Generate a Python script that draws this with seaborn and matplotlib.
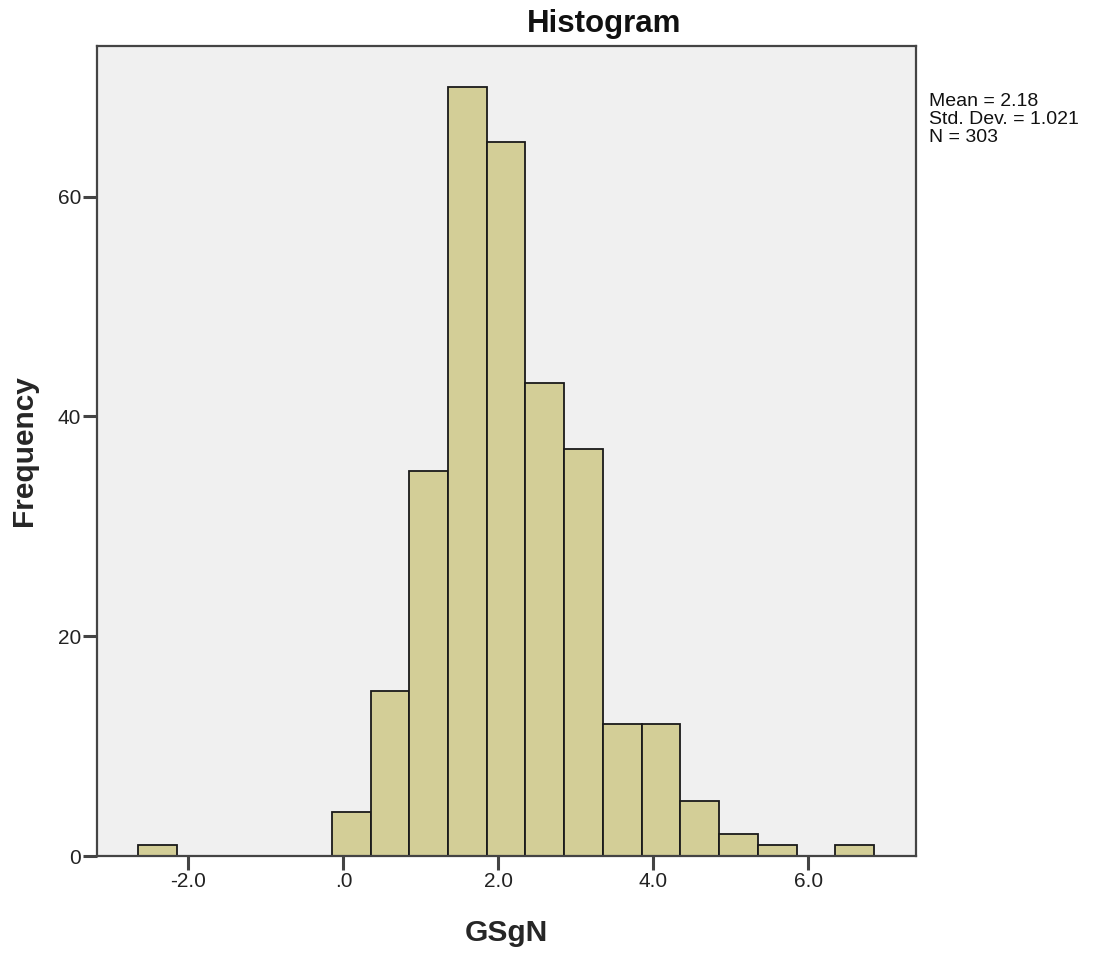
import matplotlib
matplotlib.use("Agg")
import matplotlib.pyplot as plt
import seaborn as sns
import numpy as np

# Data (bin width 0.5)
bin_edges = [-2.65, -2.15, -1.65, -1.15, -0.65, -0.15, 0.35, 0.85, 1.35, 1.85,
             2.35, 2.85, 3.35, 3.85, 4.35, 4.85, 5.35, 5.85, 6.35, 6.85]
counts = [1, 0, 0, 0, 0, 4, 15, 35, 70, 65, 43, 37, 12, 12, 5, 2, 1, 0, 1]
x_ticks = [-2.0, 0.0, 2.0, 4.0, 6.0]
x_tick_labels = ["-2.0", ".0", "2.0", "4.0", "6.0"]
y_ticks = [0, 20, 40, 60]
stats_lines = ["Mean = 2.18", "Std. Dev. = 1.021", "N = 303"]

sns.set_style("white")
plt.rcParams['font.family'] = ['Liberation Sans', 'DejaVu Sans']

centers = [(a + b) / 2 for a, b in zip(bin_edges[:-1], bin_edges[1:])]

fig = plt.figure(figsize=(11.04, 9.55), dpi=100)
ax = fig.add_axes([97 / 1104, 1 - 856 / 955, (916 - 97) / 1104, (856 - 46) / 955])
ax.set_facecolor("#F0F0F0")

sns.histplot(x=centers, weights=counts, bins=bin_edges, ax=ax,
             color="#D3CE97", alpha=1.0, edgecolor="#1a1a1a", linewidth=1.3)

ax.set_xlim(-3.18, 7.39)
ax.set_ylim(0, 73.7)
ax.set_xticks(x_ticks)
ax.set_xticklabels(x_tick_labels)
ax.set_yticks(y_ticks)
ax.tick_params(axis="both", which="major", bottom=True, left=True, top=False, right=False,
               direction="out", length=10, width=2.2, color="#444444",
               labelsize=15, labelcolor="#222222")
ax.tick_params(axis="x", pad=1.5)
ax.tick_params(axis="y", pad=1.5)
for s in ax.spines.values():
    s.set_color("#444444")
    s.set_linewidth(1.6)

ax.set_xlabel("GSgN", fontsize=21.5, fontweight="bold", labelpad=20)
ax.set_ylabel("Frequency", fontsize=21.5, fontweight="bold", labelpad=14)
fig.text(604 / 1104, 1 - 24 / 955, "Histogram", fontsize=22.5, fontweight="bold",
         ha="center", va="center", color="#111111")

fig.text(929 / 1104, 1 - 93 / 955, "\n".join(stats_lines), fontsize=14,
         va="top", ha="left", linespacing=1.08, color="#111111")

fig.savefig("out.png", dpi=100, facecolor="white")
